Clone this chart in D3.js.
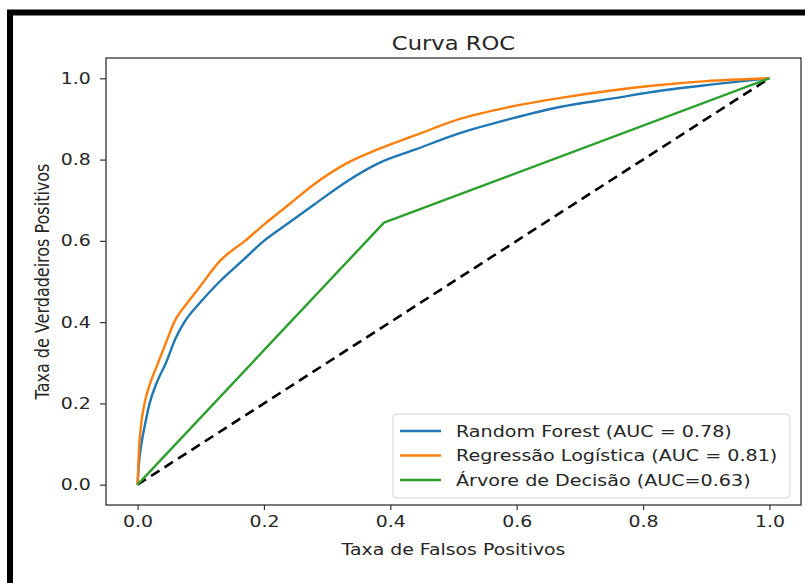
<!DOCTYPE html>
<meta charset="utf-8" />
<script src="https://d3js.org/d3.v7.min.js"></script>
<style>
  body { margin: 0; background: #fff; }
  text { font-family: "DejaVu Sans", sans-serif; fill: #262626; }
</style>
<body>
<div id="chart"></div>
<script>
  // ROC points (fpr, tpr)
  const rfFpr = [0, 0.002, 0.006, 0.012, 0.019, 0.03, 0.045, 0.06, 0.074, 0.1, 0.13, 0.165, 0.2, 0.24, 0.28, 0.33, 0.38, 0.44, 0.51, 0.59, 0.67, 0.75, 0.83, 0.91, 1];
  const rfTpr = [0, 0.05, 0.1, 0.15, 0.2, 0.25, 0.3, 0.36, 0.4, 0.45, 0.5, 0.55, 0.6, 0.645, 0.69, 0.745, 0.79, 0.825, 0.865, 0.9, 0.93, 0.95, 0.97, 0.985, 1];

  const lrFpr = [0, 0.002, 0.005, 0.011, 0.02, 0.03, 0.045, 0.058, 0.08, 0.1, 0.13, 0.17, 0.2, 0.24, 0.28, 0.33, 0.38, 0.44, 0.51, 0.59, 0.67, 0.75, 0.81, 0.9, 1];
  const lrTpr = [0, 0.08, 0.14, 0.2, 0.25, 0.29, 0.35, 0.4, 0.45, 0.49, 0.55, 0.6, 0.64, 0.69, 0.74, 0.79, 0.825, 0.86, 0.9, 0.93, 0.952, 0.97, 0.981, 0.993, 1];

  const dtFpr = [0, 0.39, 1];
  const dtTpr = [0, 0.645, 1];

  const labels = [
    "Random Forest (AUC = 0.78)",
    "Regressão Logística (AUC = 0.81)",
    "Árvore de Decisão (AUC=0.63)"
  ];
  const colors = ["#1f77b4", "#ff7f0e", "#2ca02c"];
  const ticks = [0, 0.2, 0.4, 0.6, 0.8, 1.0];

  const W = 805, H = 583;
  const margin = { top: 58, right: 4, bottom: 78, left: 106 };
  const sx = 1.18; // the screenshot is stretched sideways

  const svg = d3.select("#chart").append("svg")
    .attr("width", W).attr("height", H);

  svg.append("rect").attr("width", W).attr("height", H).attr("fill", "#fff");

  // thick black frame of the screenshot (left and top only visible)
  svg.append("path")
    .attr("d", `M10,${H} L10,12.5 L${W},12.5`)
    .attr("fill", "none").attr("stroke", "#000").attr("stroke-width", 6);

  const x = d3.scaleLinear().domain([-0.05, 1.05]).range([margin.left, W - margin.right]);
  const y = d3.scaleLinear().domain([-0.05, 1.05]).range([H - margin.bottom, margin.top]);

  const fmt = d3.format(".1f");

  const xAxis = svg.append("g")
    .attr("transform", `translate(0,${H - margin.bottom})`)
    .call(d3.axisBottom(x).tickValues(ticks).tickFormat(fmt).tickSize(5).tickPadding(6));
  const yAxis = svg.append("g")
    .attr("transform", `translate(${margin.left},0)`)
    .call(d3.axisLeft(y).tickValues(ticks).tickFormat(fmt).tickSize(6).tickPadding(7));

  [xAxis, yAxis].forEach(g => {
    g.select(".domain").remove();
    g.selectAll("line").attr("stroke", "#333").attr("stroke-width", 1.2);
    g.selectAll("text").attr("font-size", 16).attr("fill", "#262626")
      .style("font-family", "DejaVu Sans")
      .attr("transform", `scale(${sx},1)`);
  });

  const line = d3.line().x(d => x(d[0])).y(d => y(d[1]));
  const smooth = d3.line().x(d => x(d[0])).y(d => y(d[1])).curve(d3.curveMonotoneX);

  // chance diagonal
  svg.append("path")
    .datum([[0, 0], [1, 1]])
    .attr("d", line)
    .attr("fill", "none").attr("stroke", "#000")
    .attr("stroke-width", 2.6).attr("stroke-dasharray", "10,6");

  const series = [
    { pts: d3.zip(rfFpr, rfTpr), gen: smooth },
    { pts: d3.zip(lrFpr, lrTpr), gen: smooth },
    { pts: d3.zip(dtFpr, dtTpr), gen: line }
  ];

  series.forEach((s, i) => {
    svg.append("path")
      .datum(s.pts)
      .attr("d", s.gen)
      .attr("fill", "none")
      .attr("stroke", colors[i])
      .attr("stroke-width", 2.4)
      .attr("stroke-linejoin", "round");
  });

  // axes frame
  svg.append("rect")
    .attr("x", margin.left).attr("y", margin.top)
    .attr("width", W - margin.right - margin.left)
    .attr("height", H - margin.bottom - margin.top)
    .attr("fill", "none").attr("stroke", "#333").attr("stroke-width", 1.3);

  // legend
  const lg = svg.append("g").attr("transform", "translate(393,414)");
  lg.append("rect")
    .attr("width", 397).attr("height", 84).attr("rx", 4)
    .attr("fill", "#fff").attr("fill-opacity", 0.8)
    .attr("stroke", "#d6d6d6");
  labels.forEach((t, i) => {
    const yy = 17 + i * 24.5;
    lg.append("line")
      .attr("x1", 7).attr("x2", 48).attr("y1", yy).attr("y2", yy)
      .attr("stroke", colors[i]).attr("stroke-width", 2.4);
    lg.append("text")
      .attr("transform", `translate(63,${yy}) scale(${sx},1)`)
      .attr("dy", "0.35em")
      .attr("font-size", 16.2).text(t);
  });

  // titles
  const cx = (margin.left + W - margin.right) / 2;
  svg.append("text")
    .attr("transform", `translate(${cx},43) scale(${sx},1)`)
    .attr("text-anchor", "middle").attr("dy", "0.35em")
    .attr("font-size", 19.2).text("Curva ROC");

  svg.append("text")
    .attr("transform", `translate(${cx},549) scale(${sx},1)`)
    .attr("text-anchor", "middle").attr("dy", "0.35em")
    .attr("font-size", 16).text("Taxa de Falsos Positivos");

  svg.append("text")
    .attr("transform", `translate(42,${(margin.top + H - margin.bottom) / 2}) scale(${sx},1) rotate(-90)`)
    .attr("text-anchor", "middle").attr("dy", "0.35em")
    .attr("font-size", 16).text("Taxa de Verdadeiros Positivos");
</script>
</body>
